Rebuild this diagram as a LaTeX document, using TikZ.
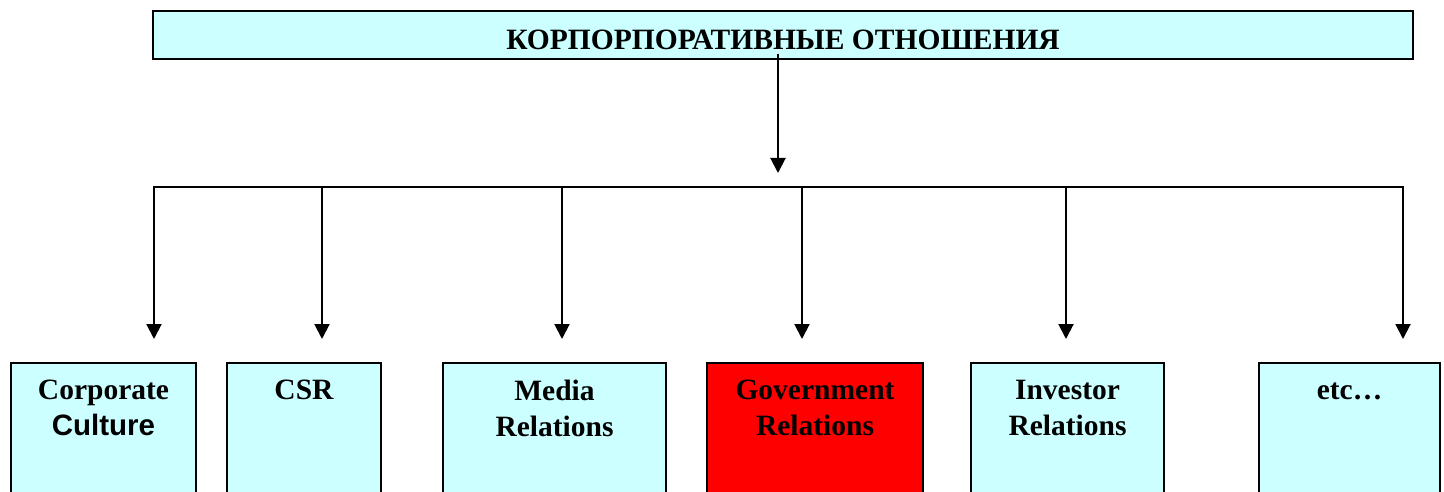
\documentclass[tikz,border=0pt]{standalone}
\usepackage{fontspec}
\setmainfont{Liberation Serif}
\setsansfont{Liberation Sans}
\usetikzlibrary{calc,positioning,arrows.meta}
\definecolor{pale}{HTML}{CCFFFF}
\definecolor{hot}{HTML}{FF0000}
\tikzset{
  box/.style = {draw = black, fill = #1, line width = 2pt, rectangle, inner sep = 0pt},
  lbl/.style = {font = \fontsize{29.5}{36}\selectfont\bfseries, align = center, anchor = north, inner sep = 0pt},
  wire/.style = {draw = black, line width = 2pt},
  arr/.style = {wire, -{Triangle[width = 15pt, length = 15pt]}},
}

\begin{document}
\begin{tikzpicture}[x=1pt,y=-1pt]
  \clip (0,0) rectangle (1444,492);
% top box
  \node[box=pale, minimum width=1260, minimum height=48, text height=29pt, text depth=0pt,
        font=\fontsize{29.5}{34}\selectfont\bfseries] (title) at (783,35) {КОРПОРПОРАТИВНЫЕ ОТНОШЕНИЯ};
  \coordinate (src) at (778,54);
  \coordinate (hub) at (778,173);
  \draw[arr] (src) -- (hub);
% bus and drops
  \foreach \i/\xi in {1/154,2/322,3/562,4/802,5/1066,6/1403}{
    \coordinate (b\i) at (\xi,187);
    \coordinate (t\i) at (\xi,339);
  }
  \draw[wire, line cap=rect] (b1) -- (b6);
  \foreach \i in {1,...,6}{
    \draw[arr] (b\i) -- (t\i);
  }
% bottom boxes
  \foreach \n/\xl/\w/\c/\t in {cc/10/185/pale/{Corporate\\{\sffamily Culture}},
                               csr/226/154/pale/{CSR},
                               mr/442/223/pale/{Media\\Relations},
                               gr/706/216/hot/{Government\\Relations},
                               ir/970/193/pale/{Investor\\Relations},
                               etc/1258/181/pale/{\vphantom{C}etc…}}{
    \node[box=\c, anchor=north west, minimum width=\w, minimum height=150] (\n) at (\xl,362) {};
    \node[lbl] (\n-t) at ($(\n.north)+(0,18)$) {\t};
  }
\end{tikzpicture}
\end{document}
